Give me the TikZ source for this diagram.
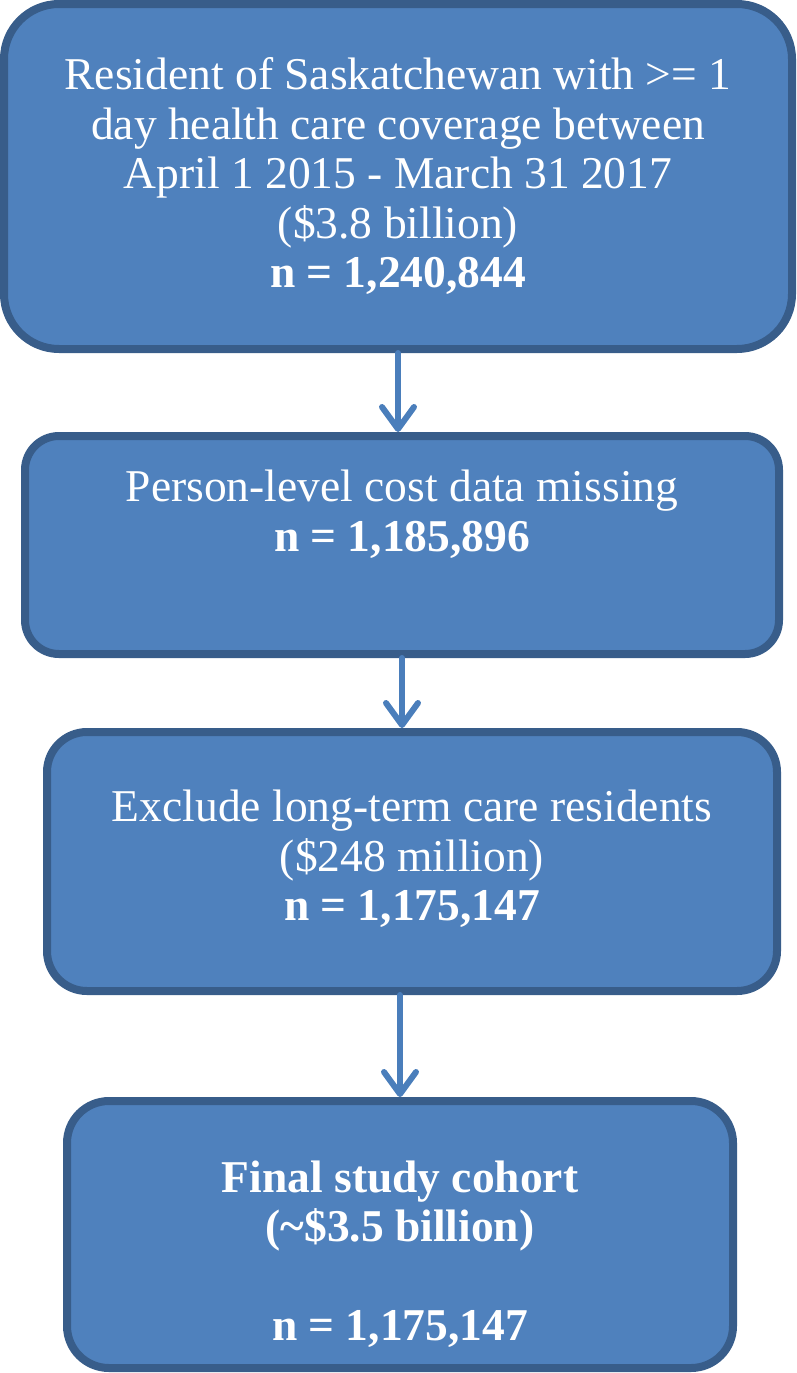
\documentclass[tikz,border=0pt]{standalone}
\usepackage{fontspec}
\setmainfont{Liberation Serif}
\usetikzlibrary{arrows.meta}
\definecolor{boxfill}{HTML}{4F81BD}
\definecolor{boxline}{HTML}{385D8A}
\definecolor{arrowblue}{HTML}{4A7EBB}

\begin{document}
\begin{tikzpicture}[x=1pt, y=-1pt, line cap=round, line join=round]
\tikzset{stage/.style={rectangle, draw=boxline, fill=boxfill, line width=8pt, inner sep=0pt},
  stagetext/.style={text=white, align=center, inner sep=0pt, font=\fontsize{45.5}{49.5}\selectfont},
  flow/.style={draw=arrowblue, line width=6pt, -{Straight Barb[length=22pt,width=32pt,round]}}}

\useasboundingbox (0,0) rectangle (796,1373);

% boxes (px, y downwards)
\node[stage, minimum width=788pt, minimum height=345pt, rounded corners=55pt] (S1) at (398,176.5) {};
\node[stage, minimum width=754pt, minimum height=218pt, rounded corners=34pt] (S2) at (402,545) {};
\node[stage, minimum width=730pt, minimum height=259pt, rounded corners=40pt] (S3) at (412,861.5) {};
\node[stage, minimum width=666pt, minimum height=267pt, rounded corners=42pt] (S4) at (400,1234.5) {};

% texts
\node[stagetext] (T1) at (398,176) {Resident of Saskatchewan with >= 1\\
  day health care coverage between\\
  April 1 2015 - March 31 2017\\
  (\$3.8 billion)\\
  \textbf{n = 1,240,844}};
\node[stagetext] (T2) at (402,514) {Person-level cost data missing\\
  \textbf{n = 1,185,896}};
\node[stagetext] (T3) at (412,859) {Exclude long-term care residents\\
  (\$248 million)\\
  \textbf{n = 1,175,147}};
\node[stagetext] (T4) at (400,1254) {\textbf{Final study cohort}\\
  \textbf{(\textasciitilde\$3.5 billion)}\\[49.5pt]
  \textbf{n = 1,175,147}};

% arrows
\draw[flow] (S1.south) -- (S1.south |- S2.north);
\draw[flow] (S2.south) -- (S2.south |- S3.north);
\draw[flow] (S4.north |- S3.south) -- (S4.north);
\end{tikzpicture}
\end{document}
